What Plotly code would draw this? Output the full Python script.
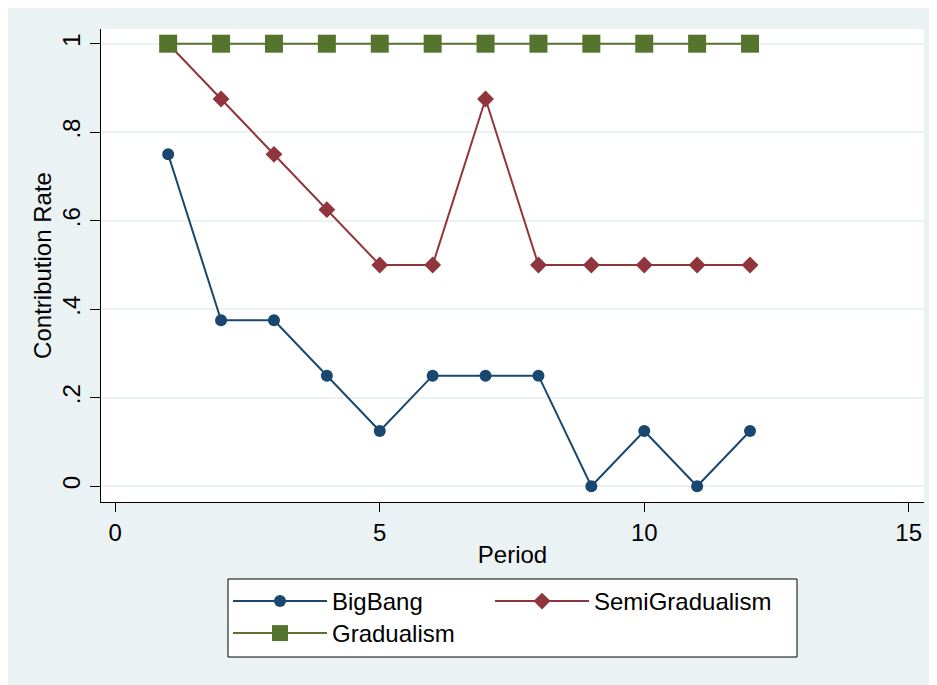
import plotly.graph_objects as go

periods = [1, 2, 3, 4, 5, 6, 7, 8, 9, 10, 11, 12]
bigbang = [0.75, 0.375, 0.375, 0.25, 0.125, 0.25, 0.25, 0.25, 0.0, 0.125, 0.0, 0.125]
semigradualism = [1.0, 0.875, 0.75, 0.625, 0.5, 0.5, 0.875, 0.5, 0.5, 0.5, 0.5, 0.5]
gradualism = [1.0, 1.0, 1.0, 1.0, 1.0, 1.0, 1.0, 1.0, 1.0, 1.0, 1.0, 1.0]

x_ticks = [0, 5, 10, 15]
y_ticks = [0, 0.2, 0.4, 0.6, 0.8, 1.0]
y_ticklabels = ["0", ".2", ".4", ".6", ".8", "1"]

NAVY = "#1A476F"
MAROON = "#90353B"
GREEN = "#55752F"
BG = "#EAF2F3"
FONT = "Liberation Sans, Arial, sans-serif"
FS = 24

fig = go.Figure()
fig.add_trace(go.Scatter(x=periods, y=bigbang, name="BigBang", mode="lines+markers",
                         line=dict(color=NAVY, width=2),
                         marker=dict(symbol="circle", size=12, color=NAVY),
                         legend="legend"))
fig.add_trace(go.Scatter(x=periods, y=semigradualism, name="SemiGradualism", mode="lines+markers",
                         line=dict(color=MAROON, width=2),
                         marker=dict(symbol="diamond", size=13, color=MAROON),
                         legend="legend3"))
fig.add_trace(go.Scatter(x=periods, y=gradualism, name="Gradualism", mode="lines+markers",
                         line=dict(color=GREEN, width=2),
                         marker=dict(symbol="square", size=18, color=GREEN),
                         legend="legend2"))

# page has an 8px body margin; figure is sized to fill the rest of the window
W, H = 929, 677
L, R, T, B = 93, 13, 21, 183
pw, ph = W - L - R, H - T - B


def fx(xpix):
    return (xpix - L) / pw


def fy(ypix):
    return (H - B - ypix) / ph


# legend frame (figure pixel coordinates)
LG_L, LG_R, LG_T, LG_B = 220, 789, 571, 649
COL2_L = 482
ROW_GAP = 32

legend_common = dict(
    orientation="h", xanchor="left", yanchor="top",
    bgcolor="rgba(0,0,0,0)", borderwidth=0,
    font=dict(family=FONT, size=FS, color="black"),
    itemwidth=94,
)

fig.update_layout(
    width=W, height=H,
    margin=dict(l=L, r=R, t=T, b=B, pad=0, autoexpand=False),
    paper_bgcolor=BG, plot_bgcolor="white",
    font=dict(family=FONT, size=FS, color="black"),
    showlegend=True,
    legend=dict(x=fx(LG_L), y=fy(LG_T), **legend_common),
    legend3=dict(x=fx(COL2_L), y=fy(LG_T), **legend_common),
    legend2=dict(x=fx(LG_L), y=fy(LG_T + ROW_GAP), **legend_common),
    shapes=[dict(type="rect", xref="paper", yref="paper",
                 x0=fx(LG_L), x1=fx(LG_R), y0=fy(LG_B), y1=fy(LG_T),
                 fillcolor="white", line=dict(color="black", width=1), layer="above")],
    xaxis=dict(
        range=[-0.270, 15.289], tickvals=x_ticks, ticktext=[str(v) for v in x_ticks],
        showgrid=False, zeroline=False, showline=True, linecolor="black", linewidth=1,
        ticks="outside", ticklen=9, tickwidth=1, tickcolor="black",
        tickfont=dict(size=FS),
        title=dict(text="Period", font=dict(size=FS), standoff=1),
    ),
    yaxis=dict(
        range=[-0.0355, 1.0332], tickvals=y_ticks, ticktext=y_ticklabels,
        showgrid=True, gridcolor=BG, gridwidth=2, zeroline=False,
        showline=True, linecolor="black", linewidth=1,
        ticks="outside", ticklen=10, tickwidth=1, tickcolor="black",
        tickangle=-90, tickfont=dict(size=FS),
        title=dict(text="Contribution Rate", font=dict(size=FS), standoff=0),
    ),
)

fig.write_html("out.html")
